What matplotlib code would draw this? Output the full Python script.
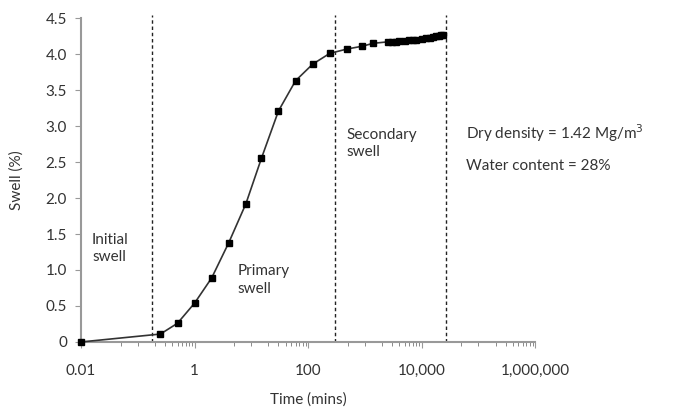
import matplotlib.pyplot as plt
from matplotlib.ticker import FixedLocator, LogLocator, NullFormatter

# swell test readings
time_mins = [0.01, 0.25, 0.5, 1, 2, 4, 8, 15, 30, 60, 120, 240, 480, 900, 1400,
             2500, 3000, 3500, 4000, 5000, 6000, 7000, 8000, 10000, 12000,
             14000, 16000, 18000, 20000, 22000, 24000]
swell_pct = [0.0, 0.11, 0.26, 0.54, 0.89, 1.38, 1.92, 2.55, 3.21, 3.63, 3.86,
             4.01, 4.07, 4.11, 4.15,
             4.17, 4.17, 4.17, 4.18, 4.18, 4.19, 4.20, 4.20, 4.21, 4.22,
             4.23, 4.24, 4.25, 4.25, 4.26, 4.27]

phase_bounds = [0.18, 300, 27000]
x_ticks = [0.01, 1, 100, 10000, 1000000]
x_ticklabels = ["0.01", "1", "100", "10,000", "1,000,000"]
y_ticks = [0, 0.5, 1.0, 1.5, 2.0, 2.5, 3.0, 3.5, 4.0, 4.5]
y_ticklabels = ["0", "0.5", "1.0", "1.5", "2.0", "2.5", "3.0", "3.5", "4.0", "4.5"]

plt.rcParams['font.family'] = ['Lato', 'DejaVu Sans']
txt_col = "#333333"

fig = plt.figure(figsize=(6.81, 4.12), dpi=100)
ax = fig.add_axes([0.119, 0.170, 0.667, 0.786])

ax.plot(time_mins, swell_pct, color="#333333", lw=1.2, marker="s", ms=5,
        mfc="black", mec="black", zorder=3, clip_on=False)

for xb in phase_bounds:
    ax.axvline(xb, ymin=0, ymax=1.01, color="#222222", lw=1.0,
               ls=(0, (2.5, 2)), clip_on=False)

ax.set_xscale("log")
ax.set_xlim(0.01, 1000000)
ax.set_ylim(0, 4.5)

ax.xaxis.set_major_locator(FixedLocator(x_ticks))
ax.set_xticklabels(x_ticklabels)
ax.xaxis.set_minor_locator(LogLocator(base=100, subs=[5, 10, 20, 30, 40, 50, 60, 70, 80, 90]))
ax.xaxis.set_minor_formatter(NullFormatter())
ax.set_yticks(y_ticks)
ax.set_yticklabels(y_ticklabels)

for s in ["top", "right"]:
    ax.spines[s].set_visible(False)
for s in ["left", "bottom"]:
    ax.spines[s].set_color("#999999")
    ax.spines[s].set_linewidth(1.5)

ax.tick_params(axis="both", which="major", direction="out", length=4,
               color="#999999", labelsize=11, labelcolor=txt_col, pad=12)
ax.tick_params(axis="x", which="minor", direction="out", length=3, color="#777777")
ax.tick_params(axis="y", pad=6)

ax.set_xlabel("Time (mins)", fontsize=11, color=txt_col, labelpad=10)
ax.set_ylabel("Swell (%)", fontsize=11, color=txt_col, labelpad=16)

ax.text(0.0156, 1.52, "Initial\nswell", fontsize=11, color=txt_col, va="top", linespacing=1.3)
ax.text(5.8, 1.08, "Primary\nswell", fontsize=11, color=txt_col, va="top", linespacing=1.3)
ax.text(480, 2.98, "Secondary\nswell", fontsize=11, color=txt_col, va="top", linespacing=1.3)
ax.text(60000, 2.9, "Dry density = 1.42 Mg/m$^3$", fontsize=11, color=txt_col, va="center",
        clip_on=False)
ax.text(60000, 2.45, "Water content = 28%", fontsize=11, color=txt_col, va="center",
        clip_on=False)

fig.savefig("out.png", dpi=100)
